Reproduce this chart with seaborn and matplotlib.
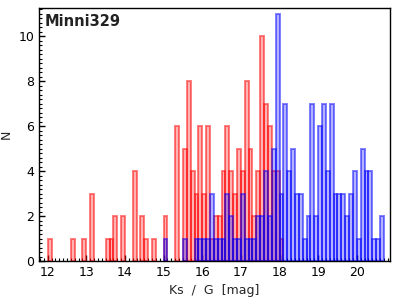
import numpy as np
import pandas as pd
import matplotlib
matplotlib.use('Agg')
import matplotlib.pyplot as plt
import seaborn as sns
from matplotlib.ticker import MultipleLocator

# bin centres [mag] and counts (bin width 0.1 mag)
ks_mag = [12.05, 12.65, 12.95, 13.15, 13.55, 13.65, 13.75, 13.95, 14.25, 14.45,
          14.55, 14.75, 15.05, 15.35, 15.55, 15.65, 15.75, 15.85, 15.95, 16.05,
          16.15, 16.25, 16.35, 16.45, 16.55, 16.65, 16.75, 16.85, 16.95, 17.05,
          17.15, 17.25, 17.35, 17.45, 17.55, 17.65, 17.75, 17.85, 17.95, 18.05]
ks_n = [1, 1, 1, 3, 1, 1, 2, 2, 4, 2,
        1, 1, 2, 6, 5, 8, 4, 3, 6, 3,
        6, 1, 2, 2, 4, 6, 4, 3, 5, 4,
        8, 5, 2, 4, 10, 7, 6, 4, 4, 1]

g_mag = [15.05, 15.55, 15.85, 15.95, 16.05, 16.15, 16.25, 16.35, 16.45, 16.55,
         16.65, 16.75, 16.85, 16.95, 17.05, 17.15, 17.25, 17.35, 17.45, 17.55,
         17.65, 17.75, 17.85, 17.95, 18.05, 18.15, 18.25, 18.35, 18.45, 18.55,
         18.65, 18.75, 18.85, 18.95, 19.05, 19.15, 19.25, 19.35, 19.45, 19.55,
         19.65, 19.75, 19.85, 19.95, 20.05, 20.15, 20.25, 20.35, 20.45, 20.55,
         20.65]
g_n = [1, 1, 1, 1, 1, 1, 3, 1, 1, 1,
       3, 2, 1, 1, 3, 1, 1, 1, 2, 2,
       4, 2, 5, 11, 3, 7, 4, 5, 3, 3,
       1, 2, 7, 2, 6, 7, 4, 7, 3, 3,
       3, 2, 3, 4, 1, 5, 4, 4, 1, 1,
       2]

title = 'Minni329'
bins = [round(b / 10.0, 1) for b in range(120, 208)]

sns.set_style('ticks')
plt.rcParams['font.family'] = ['DejaVu Sans']

fig = plt.figure(figsize=(4, 3), dpi=100)
ax = fig.add_axes([0.098, 0.13, 0.877, 0.843])

styles = [(ks_mag, ks_n, (1, 0, 0)), (g_mag, g_n, (0, 0, 1))]
for mag, n, col in styles:
    df = pd.DataFrame({'mag': mag, 'n': n})
    before = len(ax.patches)
    sns.histplot(data=df, x='mag', weights='n', bins=bins, ax=ax, color=col,
                 element='bars', fill=True, linewidth=1.4)
    for p in list(ax.patches)[before:]:
        if p.get_height() == 0:
            p.remove()
            continue
        p.set_alpha(None)
        p.set_facecolor(col + (0.3,))
        p.set_edgecolor(col + (0.5,))

ax.set_xlim(11.78, 20.86)
ax.set_ylim(0, 11.25)
ax.xaxis.set_major_locator(MultipleLocator(1))
ax.xaxis.set_minor_locator(MultipleLocator(0.1))
ax.yaxis.set_major_locator(MultipleLocator(2))
ax.yaxis.set_minor_locator(MultipleLocator(0.2))
ax.tick_params(which='both', direction='in', labelsize=9, colors='black')
ax.tick_params(which='major', length=4, width=1)
ax.tick_params(which='minor', length=2, width=0.8)
for s in ax.spines.values():
    s.set_color('black')
    s.set_linewidth(1)

ax.set_xlabel('Ks  /  G  [mag]', fontsize=9)
ax.set_ylabel('N', fontsize=9)
ax.text(0.015, 0.975, title, transform=ax.transAxes, ha='left', va='top',
        fontsize=10.5, fontweight='bold', color='#222222')

fig.savefig('out.png', dpi=100)
